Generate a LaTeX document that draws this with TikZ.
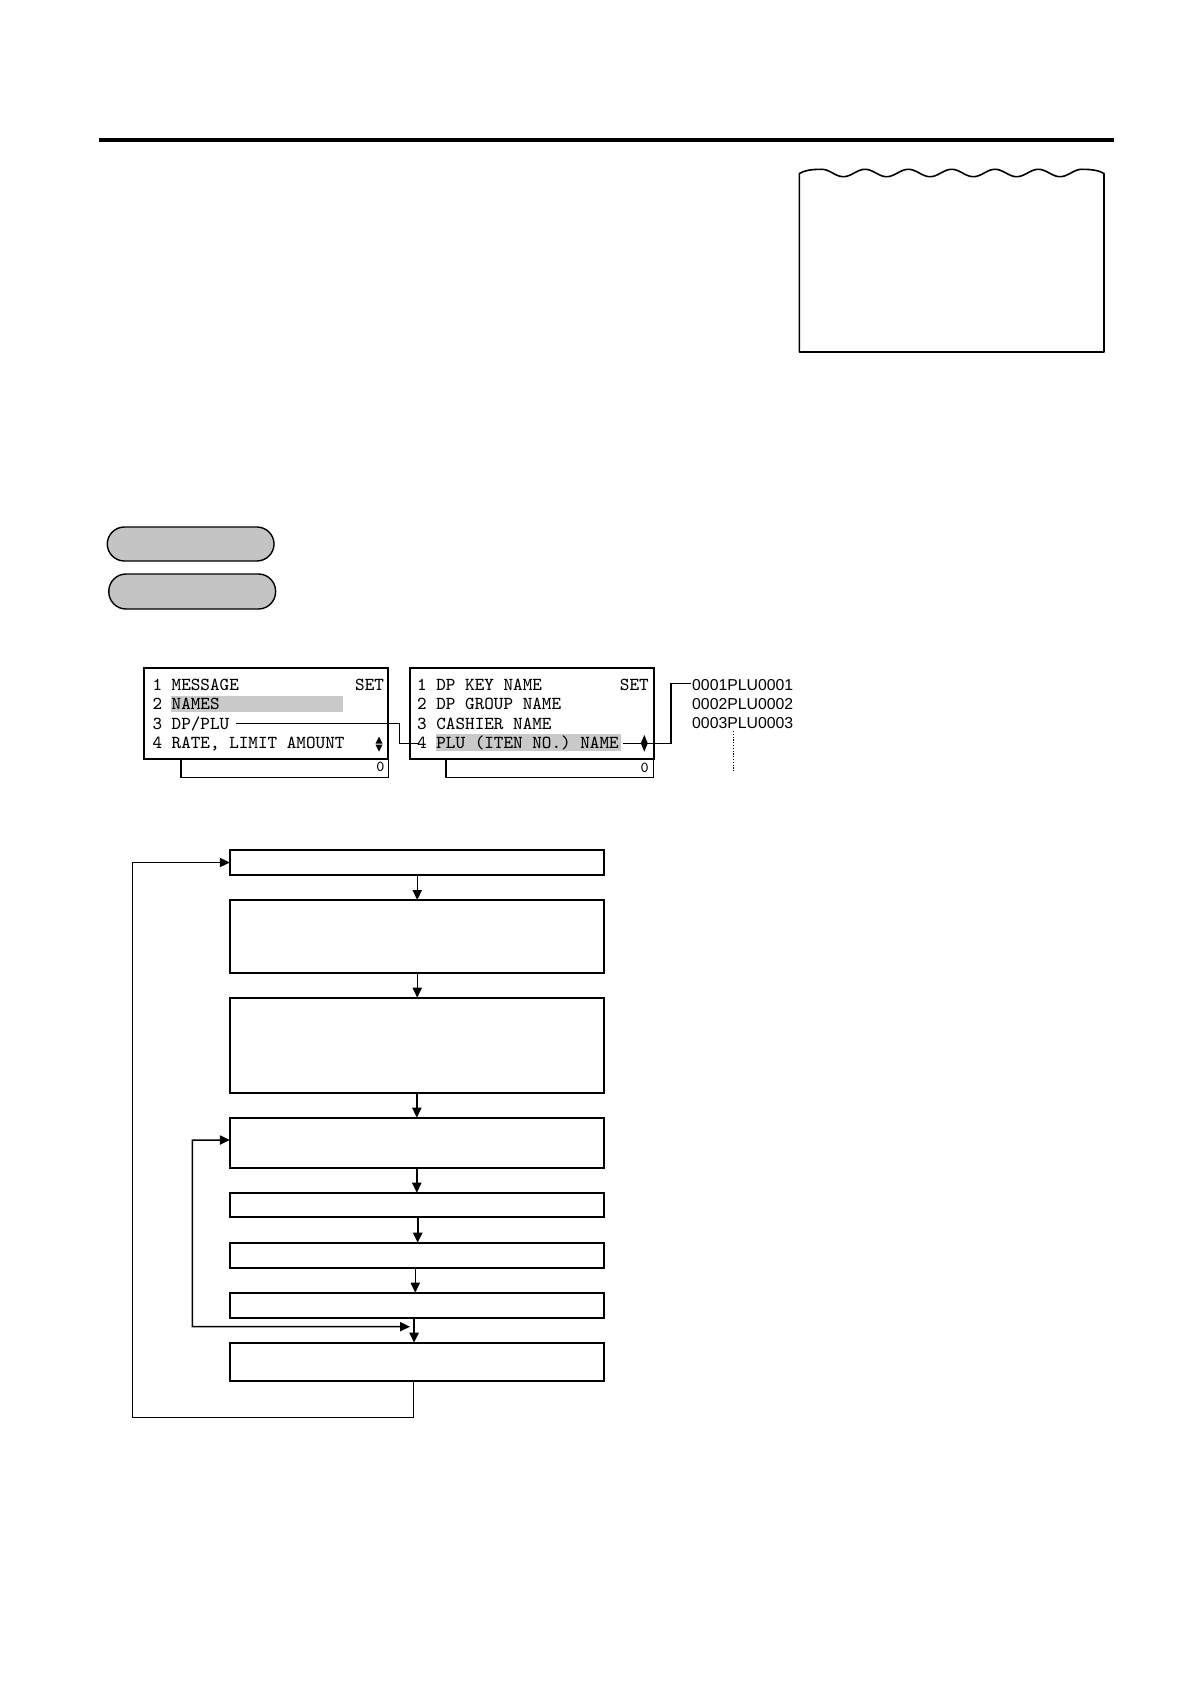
\documentclass[tikz,border=0pt]{standalone}
\usepackage{fontspec}
\newfontfamily\arialfont{Liberation Sans}
\usetikzlibrary{arrows.meta}
\definecolor{hlgray}{gray}{0.79}
\definecolor{pillgray}{gray}{0.77}
\begin{document}
\begin{tikzpicture}[x=0.5pt,y=-0.5pt,
  fbox/.style={draw,line width=0.9pt,minimum width=187pt,inner sep=0pt,outer sep=0pt},
  pillst/.style={draw,line width=0.7pt,fill=pillgray,minimum width=83.4pt,rounded corners=8.6pt,inner sep=0pt,outer sep=0pt},
  dispbox/.style={draw,line width=0.85pt,minimum width=122pt,minimum height=45.35pt,inner sep=0pt,outer sep=0pt},
  lowbox/.style={draw,line width=0.55pt,minimum height=9.15pt,inner sep=0pt,outer sep=0pt},
  mono/.style={font=\fontsize{9.14}{10}\ttfamily,inner sep=0pt,outer sep=0pt,anchor=base west},
  monor/.style={font=\fontsize{9.14}{10}\ttfamily,inner sep=0pt,outer sep=0pt,anchor=base east},
  zero/.style={font=\fontsize{7.6}{8}\ttfamily,inner sep=0pt,outer sep=0pt,anchor=base east},
  sanst/.style={font=\fontsize{7.9}{9}\arialfont,inner sep=0pt,outer sep=0pt,anchor=base west},
  conn/.style={line width=0.75pt},
  tip/.style={-{Triangle[length=5pt,width=4.6pt]}},
  thinl/.style={line width=0.55pt},
  thickl/.style={line width=0.95pt}
]
\useasboundingbox (0,0) rectangle (1190,1684);

% top rule
\draw[line width=2pt] (99,140.5) -- (1114,140.5);

% wavy-topped box
\draw[line width=0.8pt,line join=round]
  (799.3,352) -- (799.3,173.5)
  .. controls (805,170.2) and (812,169.3) .. (821.7,169.3)
  -- plot[domain=0:260,samples=160] ({\x+821.7},{173-3.7*cos(8.3083*\x)})
  .. controls (1091,169.3) and (1099,170.3) .. (1104,173.5)
  -- (1104,352) -- cycle;

% pills
\node[pillst,minimum height=17pt] (p1) at (190.65,544) {};
\node[pillst,minimum height=17.5pt] (p2) at (192.2,591.5) {};

% display 1
\fill[hlgray] (170.7,696) rectangle (343.3,711.7);
\node[dispbox] (d1) at (266.3,713.65) {};
\node[lowbox,minimum width=103.65pt] (d1b) at (284.65,768.15) {};
\node[mono] (r11) at (152.5,690.5) {1 MESSAGE};
\node[monor] (s1) at (384,690.5) {SET};
\node[mono] (r12) at (152.5,709.8) {2 NAMES};
\node[mono] (r13) at (152.5,729.1) {3 DP/PLU};
\node[mono] (r14) at (152.5,748.4) {4 RATE, LIMIT AMOUNT};
\fill (379,736.7) -- (382.5,743.5) -- (375.5,743.5) -- cycle;
\fill (379,751.7) -- (382.5,744.6) -- (375.5,744.6) -- cycle;
\node[zero] (z1) at (384.5,771.9) {0};

% display 2
\fill[hlgray] (436,734) rectangle (620.5,750.7);
\node[dispbox] (d2) at (531.85,713.65) {};
\node[lowbox,minimum width=103.85pt] (d2b) at (549.85,768.15) {};
\node[mono] (r21) at (417.2,690.5) {1 DP KEY NAME};
\node[monor] (s2) at (648.7,690.5) {SET};
\node[mono] (r22) at (417.2,709.8) {2 DP GROUP NAME};
\node[mono] (r23) at (417.2,729.1) {3 CASHIER NAME};
\node[mono] (r24) at (417.2,748.4) {4 PLU (ITEN NO.) NAME};
\node[zero] (z2) at (648.8,772.4) {0};

% list
\node[sanst] (l1) at (692.2,690.7) {0001PLU0001};
\node[sanst] (l2) at (692.2,709.2) {0002PLU0002};
\node[sanst] (l3) at (692.2,728.3) {0003PLU0003};
\draw[line width=0.55pt,dash pattern=on 0.6pt off 0.8pt] (733.3,731) -- (733.3,772);

% connectors of displays
\coordinate (c1) at (236,723.5);
\coordinate (c2) at (418.3,743.3);
\coordinate (c4) at (622.5,743.3);
\coordinate (c5) at (690.5,683.3);
\draw[conn] (c1) -- (399.3,723.5) |- (c2);
\draw[conn] (c4) -- (671,743.3) |- (c5);
\fill (644.3,735) -- (647.8,743.3) -- (644.3,751.7) -- (640.8,743.3) -- cycle;

% flowchart
\node[fbox,minimum height=12.5pt] (A) at (416.85,862.5) {};
\node[fbox,minimum height=36.35pt] (B) at (416.85,936.35) {};
\node[fbox,minimum height=47.5pt] (C) at (416.85,1045.2) {};
\node[fbox,minimum height=25pt] (D) at (416.85,1142.7) {};
\node[fbox,minimum height=12.3pt] (E) at (416.85,1205) {};
\node[fbox,minimum height=12.5pt] (F) at (416.85,1255.2) {};
\node[fbox,minimum height=12.5pt] (G) at (416.85,1305.2) {};
\node[fbox,minimum height=19pt] (H) at (416.85,1361.7) {};

\draw[thinl,tip] ([xshift=0.2pt]A.south) -- ([xshift=0.2pt]B.north);
\draw[thinl,tip] ([xshift=0.2pt]B.south) -- ([xshift=0.2pt]C.north);
\draw[line width=0.8pt,tip] (C.south) -- (D.north);
\draw[thickl,tip] (D.south) -- (E.north);
\draw[thickl,tip] ([xshift=0.4pt]E.south) -- ([xshift=0.4pt]F.north);
\draw[thinl,tip] ([xshift=-0.8pt]F.south) -- ([xshift=-0.8pt]G.north);
\draw[thickl,tip] ([xshift=-1.4pt]G.south) -- ([xshift=-1.4pt]H.north);

% inner loop
\coordinate (i2) at (410,1326.7);
\coordinate (i1) at (192.3,1140);
\draw[line width=0.75pt,{Triangle[length=5pt,width=4.6pt]}-{Triangle[length=5pt,width=4.6pt]}]
  (i2) -| (i1) -- ([yshift=1.35pt]D.west);

% outer loop
\coordinate (o1) at (132.3,1417.3);
\draw[thinl,tip] ([xshift=-1.8pt]H.south) |- (o1) |- (A.west);
\end{tikzpicture}
\end{document}
